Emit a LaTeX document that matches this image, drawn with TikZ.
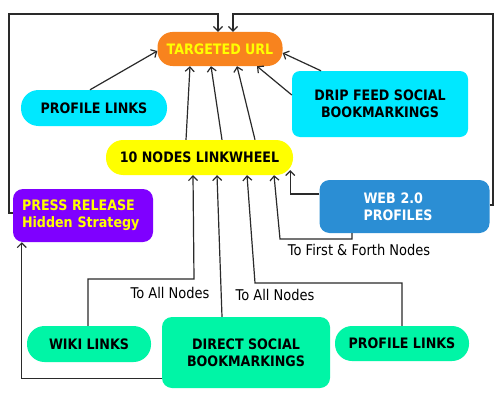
\documentclass[tikz,border=0pt]{standalone}
\usepackage{fontspec}
\setmainfont{DejaVu Sans}[FakeStretch=0.88]
\usetikzlibrary{arrows.meta}
\definecolor{urlorange}{HTML}{F8831E}
\definecolor{cyanbox}{HTML}{00E8FF}
\definecolor{yellowbox}{HTML}{FFFF00}
\definecolor{bluebox}{HTML}{2B8ED4}
\definecolor{purplebox}{HTML}{7F00FF}
\definecolor{mintbox}{HTML}{00F5A6}
\definecolor{linec}{HTML}{2A2A2A}
\begin{document}
\begin{tikzpicture}[x=1pt,y=-1pt,
  box/.style={draw=none, inner sep=0pt, font=\fontsize{14.4}{17}\selectfont\bfseries, align=center},
  conn/.style={draw=linec, line width=1.2pt, -{Straight Barb[length=4.5pt,width=9pt]}},
  lbl/.style={font=\fontsize{14.8}{17}\selectfont, inner sep=0pt, text=black}]
\useasboundingbox (0,0) rectangle (500,404);
\fill[white] (0,0) rectangle (500,404);

% nodes
\node[box, fill=urlorange, text=yellowbox, minimum width=125pt, minimum height=34pt, rounded corners=15pt] (url) at (220,49) {TARGETED URL};
\node[box, fill=cyanbox, minimum width=146pt, minimum height=36pt, rounded corners=17.5pt] (pl1) at (94,108) {PROFILE LINKS};
\node[box, fill=cyanbox, minimum width=176pt, minimum height=66pt, rounded corners=8pt] (drip) at (380,104) {DRIP FEED SOCIAL\\BOOKMARKINGS};
\node[box, fill=yellowbox, minimum width=187pt, minimum height=35pt, rounded corners=17pt] (lw) at (199.5,157.5) {10 NODES LINKWHEEL};
\node[box, fill=bluebox, text=white, text width=82pt, inner xsep=44pt, align=left, minimum height=53pt, rounded corners=10pt] (web) at (404.5,206.5) {WEB 2.0\\PROFILES};
\node[box, fill=purplebox, text=yellowbox, text width=122pt, inner xsep=9pt, align=left, minimum height=53pt, rounded corners=10pt] (press) at (83,215.5) {PRESS RELEASE\\Hidden Strategy};
\node[box, fill=mintbox, minimum width=124pt, minimum height=36pt, rounded corners=17.5pt] (wiki) at (89,344) {WIKI LINKS};
\node[box, fill=mintbox, minimum width=168pt, minimum height=71pt, rounded corners=10pt] (direct) at (246,352.5) {DIRECT SOCIAL\\BOOKMARKINGS};
\node[box, fill=mintbox, minimum width=134pt, minimum height=35pt, rounded corners=17pt] (pl2) at (402,343.5) {PROFILE LINKS};

% bend coordinates
\coordinate (lt) at (9,14);
\coordinate (rt) at (493,14);
\coordinate (wk) at (194,279);
\coordinate (pk) at (255,283);
\coordinate (wf) at (280,239);

% connectors
\draw[conn] ([yshift=2.5pt]press.west) -| (lt) -| ([xshift=-2pt]url.north);
\draw[conn] ([yshift=1.5pt]web.east) -| (rt) -| ([xshift=13pt]url.north);
\draw[conn] ([xshift=-4pt]pl1.north) -- ([yshift=-2pt]url.west);
\draw[conn] ([xshift=-59pt]drip.north) -- ([yshift=-4pt]url.east);
\draw[conn] ([yshift=9pt]drip.west) -- ([xshift=37pt]url.south);
\draw[conn] ([xshift=-13.5pt]lw.north) -- ([xshift=-30pt]url.south);
\draw[conn] ([xshift=22.5pt]lw.north) -- ([xshift=-9pt]url.south);
\draw[conn] ([xshift=55.5pt]lw.north) -- ([xshift=17pt]url.south);

\draw[conn] ([xshift=-1pt]wiki.north) |- (wk) -- ([xshift=-6.5pt]lw.south);
\draw[conn] ([xshift=-24pt]direct.north) -- ([xshift=17.5pt]lw.south);
\draw[conn] (pl2.north) |- (pk) -- ([xshift=47.5pt]lw.south);
\draw[conn] ([xshift=-52.5pt]web.south) |- (wf) -- ([xshift=74.5pt]lw.south);
\draw[conn] ([yshift=12.5pt]web.west) -| ([xshift=-3pt,yshift=5pt]lw.south east);
\draw[conn] ([yshift=-26pt]direct.west) -| ([xshift=9pt]press.south west);

% labels
\node[lbl] (l1) at (170,293) {To All Nodes};
\node[lbl] (l2) at (275,295) {To All Nodes};
\node[lbl] (l3) at (359,250) {To First \& Forth Nodes};
\end{tikzpicture}
\end{document}
